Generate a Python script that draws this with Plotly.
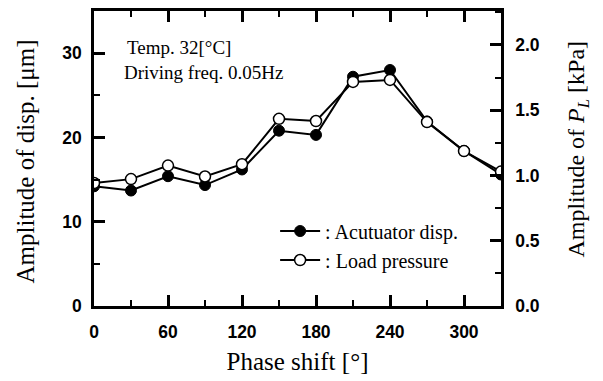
import plotly.graph_objects as go

# Phase shift between actuator drive and load [deg]
phase_shift = [0, 30, 60, 90, 120, 150, 180, 210, 240, 270, 300, 330]
# Actuator displacement amplitude [um] (left axis)
actuator_disp = [14.2, 13.7, 15.4, 14.35, 16.2, 20.8, 20.3, 27.2, 28.0, 21.9, 18.4, 15.6]
# Load pressure amplitude P_L [kPa] (right axis)
load_pressure = [0.942, 0.972, 1.076, 0.992, 1.086, 1.434, 1.417, 1.717, 1.732, 1.409, 1.187, 1.03]

x_ticks = [0, 60, 120, 180, 240, 300]
y_left_ticks = [0, 10, 20, 30]
y_right_ticks = [0.0, 0.5, 1.0, 1.5, 2.0]

serif = "Liberation Serif"
sans = "Liberation Sans"

fig = go.Figure()
fig.add_trace(go.Scatter(
    x=phase_shift, y=actuator_disp, name=": Acutuator disp.",
    mode="lines+markers",
    line=dict(color="black", width=2),
    marker=dict(symbol="circle", size=11, color="black",
                line=dict(color="black", width=1)),
))
fig.add_trace(go.Scatter(
    x=phase_shift, y=load_pressure, name=": Load pressure", yaxis="y2",
    mode="lines+markers",
    line=dict(color="black", width=2),
    marker=dict(symbol="circle", size=11, color="white",
                line=dict(color="black", width=1.5)),
))

axis_common = dict(
    showgrid=False, zeroline=False, showline=True, linecolor="black",
    linewidth=2.5, ticks="inside", ticklen=11, tickwidth=2.5,
    tickcolor="black",
    tickfont=dict(family=sans, size=17.5, color="black", weight="bold"),
)

fig.update_layout(
    width=603, height=381,
    margin=dict(l=94, r=102, t=8, b=75),
    paper_bgcolor="white", plot_bgcolor="white",
    showlegend=True,
    legend=dict(
        x=0.445, y=0.205, xanchor="left", yanchor="middle",
        bgcolor="rgba(0,0,0,0)", borderwidth=0,
        font=dict(family=serif, size=20, color="black"),
        tracegroupgap=0, itemwidth=40,
    ),
    xaxis=dict(
        **axis_common, range=[0, 330], tickvals=x_ticks, mirror="ticks",
        ticklabelstandoff=8,
        minor=dict(dtick=30, tick0=0, ticks="inside", ticklen=6,
                   tickwidth=2, tickcolor="black"),
        title=dict(text="Phase shift [°]", standoff=12,
                   font=dict(family=serif, size=25, color="black")),
    ),
    yaxis=dict(
        **axis_common, range=[0, 35], tickvals=y_left_ticks,
        ticklabelstandoff=6,
        minor=dict(dtick=5, tick0=0, ticks="inside", ticklen=6,
                   tickwidth=2, tickcolor="black"),
    ),
    yaxis2=dict(
        **axis_common, overlaying="y", side="right", range=[0, 2.26],
        tickvals=y_right_ticks, tickformat=".1f",
        ticklabelstandoff=8,
        minor=dict(dtick=0.25, tick0=0, ticks="inside", ticklen=6,
                   tickwidth=2, tickcolor="black"),
    ),
    annotations=[
        dict(text="Temp. 32[°C]", x=0.075, y=0.875, xref="paper",
             yref="paper", xanchor="left", yanchor="middle",
             showarrow=False, font=dict(family=serif, size=19, color="black")),
        dict(text="Driving freq. 0.05Hz", x=0.068, y=0.79, xref="paper",
             yref="paper", xanchor="left", yanchor="middle",
             showarrow=False, font=dict(family=serif, size=19, color="black")),
        # axis titles placed as rotated annotations
        dict(text="Amplitude of disp. [μm]", x=25, y=160, xref="paper",
             yref="paper", textangle=-90, showarrow=False,
             xanchor="center", yanchor="middle",
             font=dict(family=serif, size=25, color="black")),
        dict(text="Amplitude of <i>P</i><sub><i>L</i></sub> [kPa]",
             x=578, y=148, xref="paper", yref="paper", textangle=-90,
             showarrow=False, xanchor="center", yanchor="middle",
             font=dict(family=serif, size=24, color="black")),
    ],
)

# convert the pixel positions of the two side titles to paper coordinates
plot_l, plot_r, plot_t, plot_b = 94, 603 - 102, 8, 381 - 75
for ann in fig.layout.annotations[2:]:
    px, py = ann.x, ann.y
    ann.x = (px - plot_l) / (plot_r - plot_l)
    ann.y = (plot_b - py) / (plot_b - plot_t)

fig.write_html("out.html")
